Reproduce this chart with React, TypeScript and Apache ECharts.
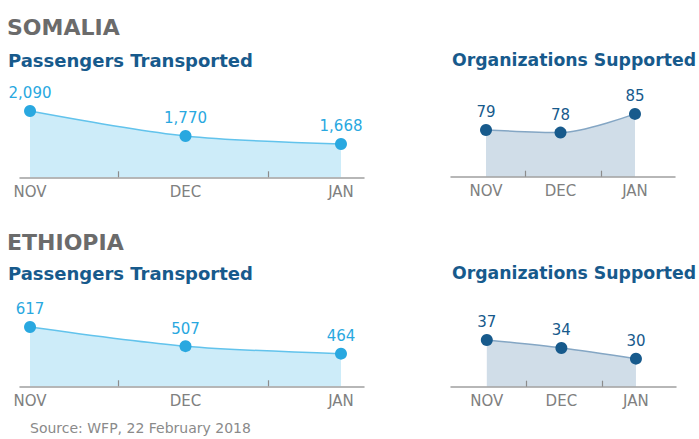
import React, { useEffect, useRef } from "react";
import * as echarts from "echarts";

const categories = ["NOV", "DEC", "JAN"];
const somaliaPassengers = [2090, 1770, 1668];
const somaliaOrgs = [79, 78, 85];
const ethiopiaPassengers = [617, 507, 464];
const ethiopiaOrgs = [37, 34, 30];

const FONT = "DejaVu Sans, Verdana, sans-serif";
const LIGHT = "#29a8e0";
const LIGHT_LINE = "#62c3ec";
const LIGHT_FILL = "#cdecf9";
const DARK = "#175a8c";
const DARK_LINE = "#84a6c4";
const DARK_FILL = "#d0dde8";

const fmt = (v: number) => v.toLocaleString("en-US");

export default function App() {
  const ref = useRef<HTMLDivElement>(null);
  useEffect(() => {
    if (!ref.current) return;
    const chart = echarts.init(ref.current, undefined, { renderer: "svg" });

    const grids = [
      { left: 20, top: 100, width: 344, height: 77.3 },
      { left: 451, top: 100, width: 224, height: 76.7 },
      { left: 20, top: 310, width: 344, height: 76.3 },
      { left: 451, top: 310, width: 225, height: 76.7 },
    ];
    const xRanges = [
      { min: -0.0645, max: 2.148, ticks: [0.568, 1.535] },
      { min: -0.47, max: 2.537, ticks: [0.523, 1.544] },
      { min: -0.0645, max: 2.148, ticks: [0.568, 1.535] },
      { min: -0.48, max: 2.537, ticks: [0.523, 1.544] },
    ];
    const yRanges = [
      { min: 1242, max: 2230 },
      { min: 61.5, max: 90.2 },
      { min: 277, max: 714 },
      { min: 19.5, max: 48.2 },
    ];
    const seriesData = [somaliaPassengers, somaliaOrgs, ethiopiaPassengers, ethiopiaOrgs];
    const styles = [
      { c: LIGHT, l: LIGHT_LINE, f: LIGHT_FILL },
      { c: DARK, l: DARK_LINE, f: DARK_FILL },
      { c: LIGHT, l: LIGHT_LINE, f: LIGHT_FILL },
      { c: DARK, l: DARK_LINE, f: DARK_FILL },
    ];

    const titleStyle = (size: number, color: string) => ({
      fontFamily: FONT,
      fontSize: size,
      fontWeight: "bold" as const,
      color,
    });

    chart.setOption({
      animation: false,
      title: [
        { text: "SOMALIA", left: 7, top: 16, textStyle: titleStyle(22, "#6b6b6b"), padding: 0 },
        { text: "Passengers Transported", left: 8, top: 51, textStyle: titleStyle(18, DARK), padding: 0 },
        { text: "Organizations Supported", left: 452, top: 51.5, textStyle: titleStyle(17.3, DARK), padding: 0 },
        { text: "ETHIOPIA", left: 7, top: 231, textStyle: titleStyle(22, "#6b6b6b"), padding: 0 },
        { text: "Passengers Transported", left: 8, top: 264, textStyle: titleStyle(18, DARK), padding: 0 },
        { text: "Organizations Supported", left: 452, top: 264.5, textStyle: titleStyle(17.3, DARK), padding: 0 },
        {
          text: "Source: WFP, 22 February 2018",
          left: 30,
          top: 421,
          padding: 0,
          textStyle: { fontFamily: FONT, fontSize: 14, fontWeight: "normal", color: "#8a8a8a" },
        },
      ],
      grid: grids,
      xAxis: grids.map((_, i) => ({
        type: "value",
        gridIndex: i,
        z: 5,
        min: xRanges[i].min,
        max: xRanges[i].max,
        splitLine: { show: false },
        axisLine: { show: true, lineStyle: { color: "#a0a0a0", width: 1.5 } },
        axisTick: {
          show: true,
          inside: true,
          length: 6,
          customValues: xRanges[i].ticks,
          lineStyle: { color: "#8c8c8c", width: 1.2 },
        },
        axisLabel: {
          customValues: [0, 1, 2],
          formatter: (v: number) => categories[Math.round(v)] ?? "",
          fontFamily: FONT,
          fontSize: 15,
          color: "#808080",
          margin: 7,
        },
      })),
      yAxis: grids.map((_, i) => ({
        type: "value",
        gridIndex: i,
        min: yRanges[i].min,
        max: yRanges[i].max,
        show: false,
        splitLine: { show: false },
      })),
      series: seriesData.map((d, i) => ({
        type: "line",
        xAxisIndex: i,
        yAxisIndex: i,
        z: 2,
        data: d.map((v, j) => [j, v]),
        smooth: 0.3,
        symbol: "circle",
        symbolSize: 12,
        itemStyle: { color: styles[i].c },
        lineStyle: { color: styles[i].l, width: 1.5 },
        areaStyle: { color: styles[i].f, opacity: 1, origin: "start" },
        label: {
          show: true,
          position: "top",
          distance: 4,
          formatter: (p: any) => fmt(p.value[1]),
          fontFamily: FONT,
          fontSize: 15,
          color: styles[i].c,
        },
      })),
    });
    return () => chart.dispose();
  }, []);
  return (
    <div
      ref={ref}
      style={{ position: "absolute", left: 0, top: 0, width: 699, height: 439, background: "#fff" }}
    />
  );
}
